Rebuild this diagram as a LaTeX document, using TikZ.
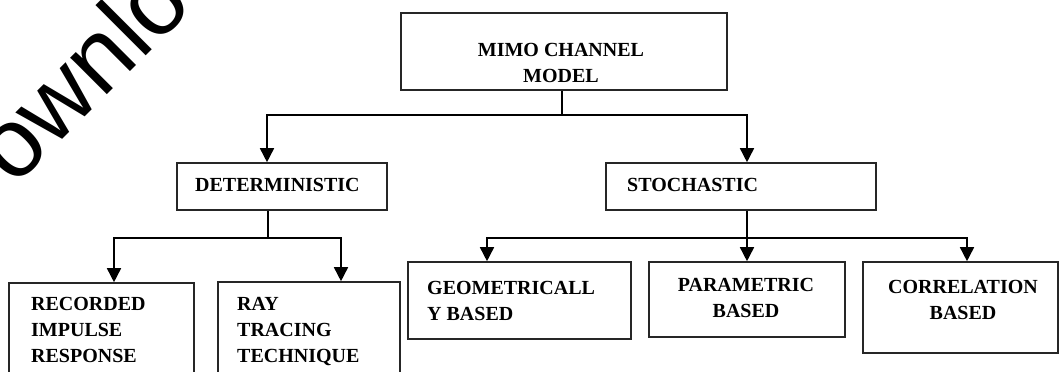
\documentclass[tikz,border=0pt]{standalone}
\usepackage{fontspec}
\setmainfont{Liberation Serif}
\newfontfamily\wmfont{Liberation Sans}
\usetikzlibrary{arrows.meta,calc}
\begin{document}
\begin{tikzpicture}[x=1pt,y=-1pt,
  box/.style={draw=black!85, line width=1.6pt, rectangle, inner sep=0pt},
  lbl/.style={font=\fontsize{20}{26}\selectfont\bfseries, inner sep=0pt, text=black},
  conn/.style={line width=1.6pt, draw=black},
  arr/.style={conn, -{Triangle[width=14pt,length=14pt]}}]
\useasboundingbox (0,0) rectangle (1060,372);
\clip (0,0) rectangle (1060,372);
\fill[white] (0,0) rectangle (1060,372);

% watermark
\node[font=\wmfont\fontsize{98}{98}\selectfont, rotate=45, anchor=base west, inner sep=0pt] (wm) at (-36,238) {Downlo};

% boxes
\node[box, minimum width=326pt, minimum height=77pt] (mimo) at (564,51.5) {};
\node[box, minimum width=210pt, minimum height=47pt] (det) at (282,186.5) {};
\node[box, minimum width=270pt, minimum height=47pt] (sto) at (741,186.5) {};
\node[box, minimum width=185pt, minimum height=107pt] (rec) at (101.5,336.5) {};
\node[box, minimum width=182pt, minimum height=108pt] (ray) at (309,336) {};
\node[box, minimum width=223pt, minimum height=77pt] (geo) at (519.5,300.5) {};
\node[box, minimum width=196pt, minimum height=75pt] (par) at (747,299.5) {};
\node[box, minimum width=195pt, minimum height=91pt] (cor) at (960.5,307.5) {};

% labels
\node[lbl, align=center, anchor=north] (tmimo) at (561,43) {MIMO CHANNEL\\MODEL};
\node[lbl, anchor=north west] (tdet) at (195,178.5) {DETERMINISTIC};
\node[lbl, anchor=north west] (tsto) at (627,178.5) {STOCHASTIC};
\node[lbl, align=left, anchor=north west] (trec) at (31,297.5) {RECORDED\\IMPULSE\\RESPONSE};
\node[lbl, align=left, anchor=north west] (tray) at (237,297.5) {RAY\\TRACING\\TECHNIQUE};
\node[lbl, align=left, anchor=north west] (tgeo) at (427,281) {GEOMETRICALL\\Y BASED};
\node[lbl, align=center, anchor=north] (tpar) at (746,278) {PARAMETRIC\\BASED};
\node[lbl, align=center, anchor=north] (tcor) at (963,280) {CORRELATION\\BASED};

% connectors
\coordinate (b1) at (562,115);
\coordinate (b2) at (268,238);
\coordinate (b3) at (747,238);
\draw[conn] (mimo.south -| b1) -- (b1);
\draw[arr] (b1) -| ($(det.north)+(-15,0)$);
\draw[arr] (b1) -| ($(sto.north)+(6,0)$);
\draw[conn] (det.south -| b2) -- (b2);
\draw[arr] (b2) -| ($(rec.north)+(12.5,0)$);
\draw[arr] (b2) -| ($(ray.north)+(32,0)$);
\draw[arr] (sto.south -| b3) -- (par.north);
\draw[arr] (b3) -| ($(geo.north)+(-32.5,0)$);
\draw[arr] (b3) -| ($(cor.north)+(6.5,0)$);
\end{tikzpicture}
\end{document}
